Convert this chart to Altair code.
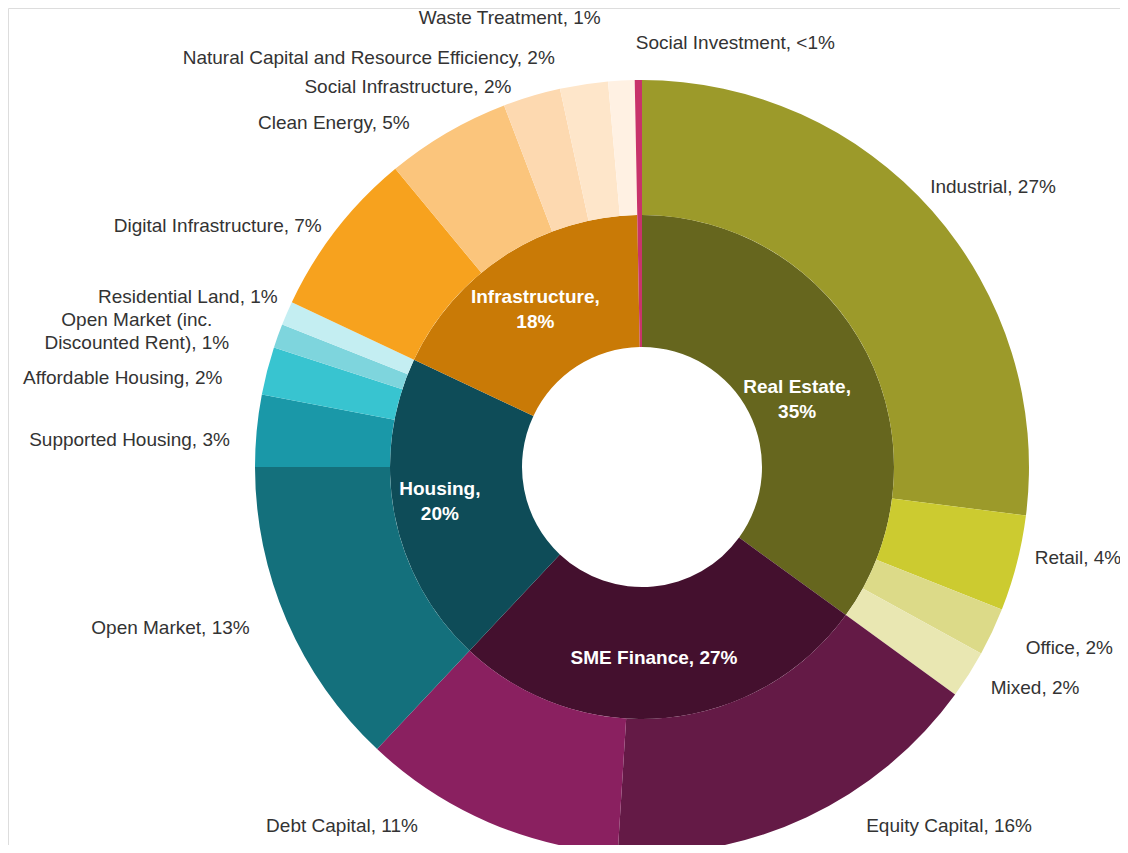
import altair as alt
import pandas as pd
import numpy as np

# ---------------- data ----------------
group_names = ["Real Estate", "SME Finance", "Housing", "Infrastructure", "Social Investment"]
group_values = [35, 27, 20, 17.7, 0.3]
group_labels = ["Real Estate,\n35%", "SME Finance, 27%", "Housing,\n20%", "Infrastructure,\n18%", ""]

sub_names = ["Industrial", "Retail", "Office", "Mixed",
             "Equity Capital", "Debt Capital",
             "Open Market", "Supported Housing", "Affordable Housing",
             "Open Market (inc. Discounted Rent)", "Residential Land",
             "Digital Infrastructure", "Clean Energy", "Social Infrastructure",
             "Natural Capital and Resource Efficiency", "Waste Treatment",
             "Social Investment"]
sub_values = [27, 4, 2, 2,
              16, 11,
              13, 3, 2, 1, 1,
              7, 5.2, 2.4, 2.0, 1.1,
              0.3]
sub_labels = ["Industrial, 27%", "Retail, 4%", "Office, 2%", "Mixed, 2%",
              "Equity Capital, 16%", "Debt Capital, 11%",
              "Open Market, 13%", "Supported Housing, 3%", "Affordable Housing, 2%",
              "Open Market (inc.\nDiscounted Rent), 1%", "Residential Land, 1%",
              "Digital Infrastructure, 7%", "Clean Energy, 5%", "Social Infrastructure, 2%",
              "Natural  Capital and Resource Efficiency, 2%", "Waste Treatment, 1%",
              "Social Investment, <1%"]

# ---------------- styles ----------------
group_colors = ["#66661e", "#44102e", "#0e4c58", "#c97a06", "#c8336a"]
sub_colors = ["#9c9a2a", "#cccb30", "#dcda88", "#e9e7b2",
              "#641a46", "#8a2060",
              "#14707c", "#1a98a8", "#38c4d0", "#7ed5dd", "#c4eef2",
              "#f7a21e", "#fbc57c", "#fdd9b0", "#fee6ca", "#fff1e3",
              "#c8336a"]

# ---------------- layout ----------------
CX, CY = 634, 459
R_HOLE, R_MID, R_OUT = 120, 252, 387
SUB_LH, GROUP_LH = 23, 25

# label placement (radius in px, angle nudge in degrees, alignment)
sub_label_r = [402, 403, 424, 413, 423, 423, 424, 413, 429, 523, 402, 401, 415, 402, 418, 451, 424]
sub_label_nudge = [-2.8, -1.4, 0, 0, -6.8, 8.6, 1.1, -1.7, -2.4, -4.8, 1.6, -0.8, -3.8, -2.4, -3.4, -2.2, -0.3]
sub_label_align = ["left", "left", "left", "left", "left", "right", "right", "right", "right",
                   "center", "right", "right", "right", "right", "right", "right", "left"]
group_label_r = [169, 191, 205, 190, 0]
group_label_nudge = [3.6, 1.8, 1.2, -1.2, 0]

FONT = "Liberation Sans"


def mid_angles(values):
    v = np.asarray(values, dtype=float)
    cum = np.cumsum(v)
    start = cum - v
    return (start + v / 2) / v.sum() * 360.0


def polar(angles, radii, nudges):
    a = np.radians(np.asarray(angles) + np.asarray(nudges))
    r = np.asarray(radii, dtype=float)
    return CX + r * np.sin(a), CY - r * np.cos(a)


def block_shift(labels, lh):
    # vertically centre multi-line label blocks on their anchor
    return np.array([-(lab.count("\n")) * lh / 2.0 for lab in labels])


inner_df = pd.DataFrame({
    "name": group_names, "value": group_values,
    "color": group_colors, "idx": range(len(group_names)),
})
outer_df = pd.DataFrame({
    "name": sub_names, "value": sub_values,
    "color": sub_colors, "idx": range(len(sub_names)),
})

gx, gy = polar(mid_angles(group_values), group_label_r, group_label_nudge)
gy = gy + block_shift(group_labels, GROUP_LH)
glab_df = pd.DataFrame({"label": group_labels, "lx": gx, "ly": gy})
glab_df = glab_df[glab_df["label"] != ""]

sx, sy = polar(mid_angles(sub_values), sub_label_r, sub_label_nudge)
sy = sy + block_shift(sub_labels, SUB_LH)
slab_df = pd.DataFrame({"label": sub_labels, "lx": sx, "ly": sy, "align": sub_label_align})

inner = alt.Chart(inner_df).mark_arc(innerRadius=R_HOLE, outerRadius=R_MID).encode(
    theta=alt.Theta("value:Q", stack=True),
    order=alt.Order("idx:Q"),
    color=alt.Color("color:N", scale=None),
    x=alt.value(CX), y=alt.value(CY),
)
outer = alt.Chart(outer_df).mark_arc(innerRadius=R_MID, outerRadius=R_OUT).encode(
    theta=alt.Theta("value:Q", stack=True),
    order=alt.Order("idx:Q"),
    color=alt.Color("color:N", scale=None),
    x=alt.value(CX), y=alt.value(CY),
)

layers = [inner, outer]
for al in ["left", "right", "center"]:
    layers.append(
        alt.Chart(slab_df).transform_filter(alt.datum.align == al).mark_text(
            align=al, baseline="middle", font=FONT, fontSize=19, color="#333333",
            lineHeight=SUB_LH, lineBreak="\n",
        ).encode(
            x=alt.X("lx:Q", scale=None, axis=None),
            y=alt.Y("ly:Q", scale=None, axis=None),
            text="label:N",
        )
    )

layers.append(
    alt.Chart(glab_df).mark_text(
        align="center", baseline="middle", font=FONT, fontSize=19, fontWeight="bold",
        color="#ffffff", lineHeight=GROUP_LH, lineBreak="\n",
    ).encode(
        x=alt.X("lx:Q", scale=None, axis=None),
        y=alt.Y("ly:Q", scale=None, axis=None),
        text="label:N",
    )
)

chart = alt.layer(*layers).resolve_scale(theta="independent").properties(
    width=1112, height=837, padding=0,
    autosize=alt.AutoSizeParams(type="none"),
).configure_view(
    stroke="transparent", strokeWidth=0, strokeOpacity=0, fill="#ffffff"
).configure_axis(
    domain=False, grid=False, ticks=False, labels=False
).configure(background="#ffffff")

chart.save("out.html", embed_options={"renderer": "svg", "actions": False})
